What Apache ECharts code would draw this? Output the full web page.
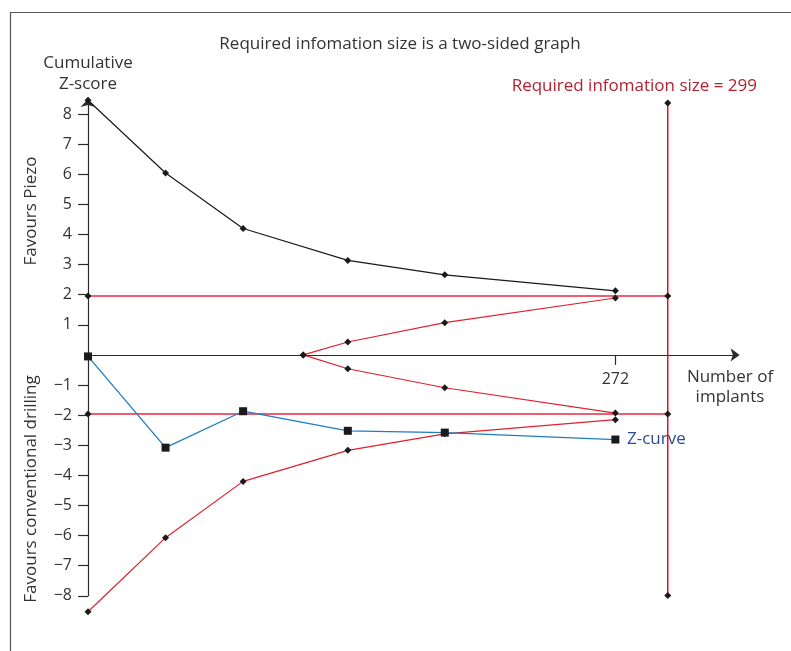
<!DOCTYPE html>
<html>
<head>
<meta charset="utf-8">
<script src="https://cdn.jsdelivr.net/npm/echarts@6/dist/echarts.min.js"></script>
<style>
html,body{margin:0;padding:0;background:#fff;}
#chart{width:791px;height:651px;}
</style>
</head>
<body>
<div id="chart"></div>
<script>
// ---- data ----
var xInfo = [0, 40, 80, 134, 184, 272];
var upperBoundary = [8.46, 6.04, 4.20, 3.14, 2.66, 2.13];
var lowerBoundary = [-8.53, -6.07, -4.20, -3.17, -2.62, -2.15];
var zCurve = [-0.05, -3.08, -1.87, -2.52, -2.58, -2.81];
var futilityX = [111, 134, 184, 272];
var futilityUpper = [0, 0.43, 1.07, 1.89];
var futilityLower = [0, -0.46, -1.09, -1.93];
var conventionalZ = 1.96;
var risValue = 299;
var risTop = 8.37;
var risBottom = -7.99;
var yTickValues = [-8, -7, -6, -5, -4, -3, -2, -1, 1, 2, 3, 4, 5, 6, 7, 8];
var xTickValues = [272];

function pairs(xs, ys) { return xs.map(function (x, i) { return [x, ys[i]]; }); }

var FONT = 'Open Sans';
var TXT = '#333333';
var chart = echarts.init(document.getElementById('chart'), null, {renderer: 'canvas'});

var diamond = 'diamond';
var option = {
  animation: false,
  backgroundColor: '#ffffff',
  grid: {left: 88, right: 55.4, top: 102, bottom: 55.2, containLabel: false},
  xAxis: {
    type: 'value', min: 0, max: 334,
    splitLine: {show: false},
    axisLine: {onZero: true, lineStyle: {color: '#2b2b2b', width: 1.2},
      symbol: ['none', 'arrow'], symbolSize: [10, 9], symbolOffset: [0, 4]},
    axisTick: {show: true, customValues: xTickValues, length: 10, lineStyle: {color: '#2b2b2b', width: 1.2}},
    axisLabel: {show: false}
  },
  yAxis: {
    type: 'value', min: -8, max: 8.4,
    splitLine: {show: false},
    axisLine: {show: true, onZero: false, lineStyle: {color: '#2b2b2b', width: 1.2},
      symbol: ['none', 'arrow'], symbolSize: [11, 8], symbolOffset: [0, 3]},
    axisTick: {show: true, customValues: yTickValues, length: 10, lineStyle: {color: '#2b2b2b', width: 1.2}},
    axisLabel: {customValues: yTickValues, margin: 16, color: TXT, fontFamily: FONT, fontSize: 16,
      formatter: function (v) { return String(v).replace('-', '\u2212'); }}
  },
  series: [
    {type: 'line', data: [[0, conventionalZ], [risValue, conventionalZ]], clip: false, z: 2,
      lineStyle: {color: '#ec5f72', width: 2}, symbol: diamond, symbolSize: 7,
      itemStyle: {color: '#1a1a1a'}},
    {type: 'line', data: [[0, -conventionalZ], [risValue, -conventionalZ]], clip: false, z: 2,
      lineStyle: {color: '#ec5f72', width: 2}, symbol: diamond, symbolSize: 7,
      itemStyle: {color: '#1a1a1a'}},
    {type: 'line', data: [[risValue, risTop], [risValue, risBottom]], clip: false, z: 2,
      lineStyle: {color: '#e8101e', width: 1.5}, symbol: diamond, symbolSize: 7,
      itemStyle: {color: '#1a1a1a'}},
    {type: 'line', data: pairs(xInfo, upperBoundary), clip: false, z: 3,
      lineStyle: {color: '#1a1a1a', width: 1.2}, symbol: diamond, symbolSize: 7,
      itemStyle: {color: '#1a1a1a'}},
    {type: 'line', data: pairs(xInfo, lowerBoundary), clip: false, z: 3,
      lineStyle: {color: '#e0202e', width: 1.2}, symbol: diamond, symbolSize: 7,
      itemStyle: {color: '#1a1a1a'}},
    {type: 'line', data: pairs(futilityX, futilityUpper), clip: false, z: 3,
      lineStyle: {color: '#e0202e', width: 1.2}, symbol: diamond, symbolSize: 7,
      itemStyle: {color: '#1a1a1a'}},
    {type: 'line', data: pairs(futilityX, futilityLower), clip: false, z: 3,
      lineStyle: {color: '#e0202e', width: 1.2}, symbol: diamond, symbolSize: 7,
      itemStyle: {color: '#1a1a1a'}},
    {type: 'line', data: pairs(xInfo, zCurve), clip: false, z: 4,
      lineStyle: {color: '#1f7cc4', width: 1.3}, symbol: 'rect', symbolSize: 8,
      itemStyle: {color: '#1a1a1a'}}
  ],
  graphic: [
    {type: 'polyline', shape: {points: [[10.5, 651], [10.5, 12.5], [791, 12.5]]},
      style: {stroke: '#555555', lineWidth: 1.2, fill: null}, silent: true},
    {type: 'text', x: 400, y: 44, style: {text: 'Required infomation size is a two-sided graph',
      fill: TXT, font: '17px "Open Sans"', textAlign: 'center', textVerticalAlign: 'middle'}},
    {type: 'text', x: 757, y: 86, style: {text: 'Required infomation size = 299',
      fill: '#b51f2e', font: '17px "Open Sans"', textAlign: 'right', textVerticalAlign: 'middle'}},
    {type: 'text', x: 88, y: 74, style: {text: 'Cumulative\nZ-score', lineHeight: 21,
      fill: TXT, font: '17px "Open Sans"', textAlign: 'center', textVerticalAlign: 'middle'}},
    {type: 'text', x: 730, y: 387, style: {text: 'Number of\nimplants', lineHeight: 20,
      fill: TXT, font: '17px "Open Sans"', textAlign: 'center', textVerticalAlign: 'middle'}},
    {type: 'text', x: 627, y: 439, style: {text: 'Z-curve',
      fill: '#2b4c9b', font: '17px "Open Sans"', textAlign: 'left', textVerticalAlign: 'middle'}},
    {type: 'text', x: 31, y: 211, rotation: Math.PI / 2, style: {text: 'Favours Piezo',
      fill: TXT, font: '17px "Open Sans"', textAlign: 'center', textVerticalAlign: 'middle'}},
    {type: 'text', x: 31, y: 489, rotation: Math.PI / 2, style: {text: 'Favours conventional drilling',
      fill: TXT, font: '17px "Open Sans"', textAlign: 'center', textVerticalAlign: 'middle'}}
  ]
};
chart.setOption(option);

// x-axis tick label placed under the axis line at y = 0, via the library's scale
var xLabelGraphics = xTickValues.map(function (v) {
  var p = chart.convertToPixel({gridIndex: 0}, [v, 0]);
  return {type: 'text', x: p[0], y: p[1] + 25, style: {text: String(v), fill: TXT,
    font: '16px "Open Sans"', textAlign: 'center', textVerticalAlign: 'middle'}};
});
chart.setOption({graphic: option.graphic.concat(xLabelGraphics)});
</script>
</body>
</html>
